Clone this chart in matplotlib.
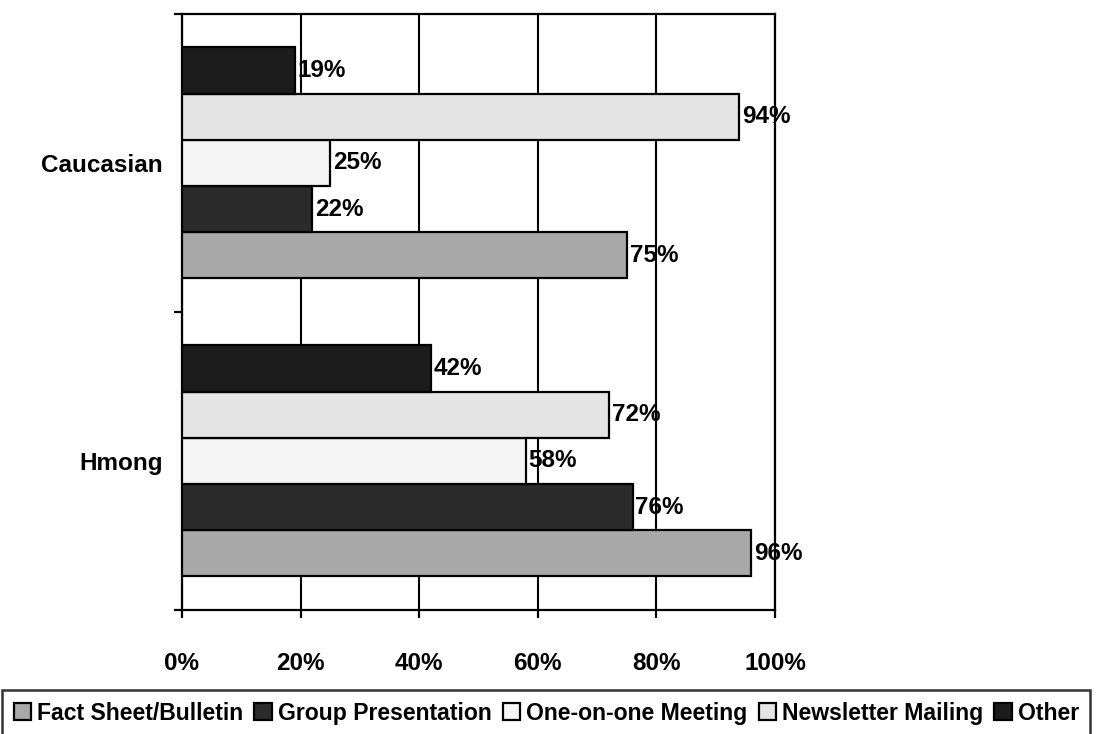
import numpy as np
import matplotlib.pyplot as plt

plt.rcParams['font.family'] = ['Liberation Sans', 'DejaVu Sans']
plt.rcParams['font.weight'] = 'bold'

groups = ['Hmong', 'Caucasian']
methods = ['Fact Sheet/Bulletin', 'Group Presentation', 'One-on-one Meeting',
           'Newsletter Mailing', 'Other']
# percent of respondents, one list per method: [Hmong, Caucasian]
fact_sheet = [96, 75]
group_pres = [76, 22]
one_on_one = [58, 25]
newsletter = [72, 94]
other = [42, 19]
series = [fact_sheet, group_pres, one_on_one, newsletter, other]
colors = ['#a9a9a9', '#2b2b2b', '#f5f5f5', '#e4e4e4', '#1c1c1c']

fig = plt.figure(figsize=(11.19, 7.34), dpi=100)
ax = fig.add_axes([0.1626, 0.169, 0.530, 0.812])

y = np.arange(len(groups))
h = 0.155
for i, (vals, col) in enumerate(zip(series, colors)):
    pos = y + (i - 2) * h
    bars = ax.barh(pos, vals, height=h, color=col, edgecolor='black',
                   linewidth=1.6, label=methods[i], zorder=3)
    for b, v in zip(bars, vals):
        ax.annotate(f'{v}%', (b.get_width(), b.get_y() + b.get_height() / 2),
                    xytext=(2, 0), textcoords='offset points', va='center',
                    ha='left', fontsize=17.5, fontweight='bold', zorder=5)

ax.set_xlim(0, 100)
ax.set_ylim(-0.5, 1.5)
ax.set_xticks(range(0, 101, 20))
ax.set_xticklabels([f'{t}%' for t in range(0, 101, 20)], fontsize=17.5,
                   fontweight='bold')
ax.tick_params(axis='x', direction='out', length=6, width=1.6, pad=24)
ax.set_yticks(y)
ax.set_yticklabels(groups, fontsize=17.5, fontweight='bold')
ax.tick_params(axis='y', which='major', length=0, pad=14)
ax.set_yticks([-0.5, 0.5, 1.5], minor=True)
ax.tick_params(axis='y', which='minor', direction='out', length=6, width=1.6)
ax.xaxis.grid(True, color='black', linewidth=1.5, zorder=0)
ax.set_axisbelow(True)
for s in ax.spines.values():
    s.set_linewidth(1.6)
    s.set_color('black')

handles, labels = ax.get_legend_handles_labels()
leg = fig.legend(handles, labels, loc='upper left', ncol=5,
                 bbox_to_anchor=(0.002, 1 - 690 / 734), fontsize=16.6,
                 frameon=True, fancybox=False, edgecolor='black',
                 handlelength=0.75, handleheight=0.75, handletextpad=0.25,
                 columnspacing=0.5, borderpad=0.5, borderaxespad=0)
leg.get_frame().set_linewidth(1.8)
for t in leg.get_texts():
    t.set_fontweight('bold')

fig.savefig('out.png', dpi=100)
